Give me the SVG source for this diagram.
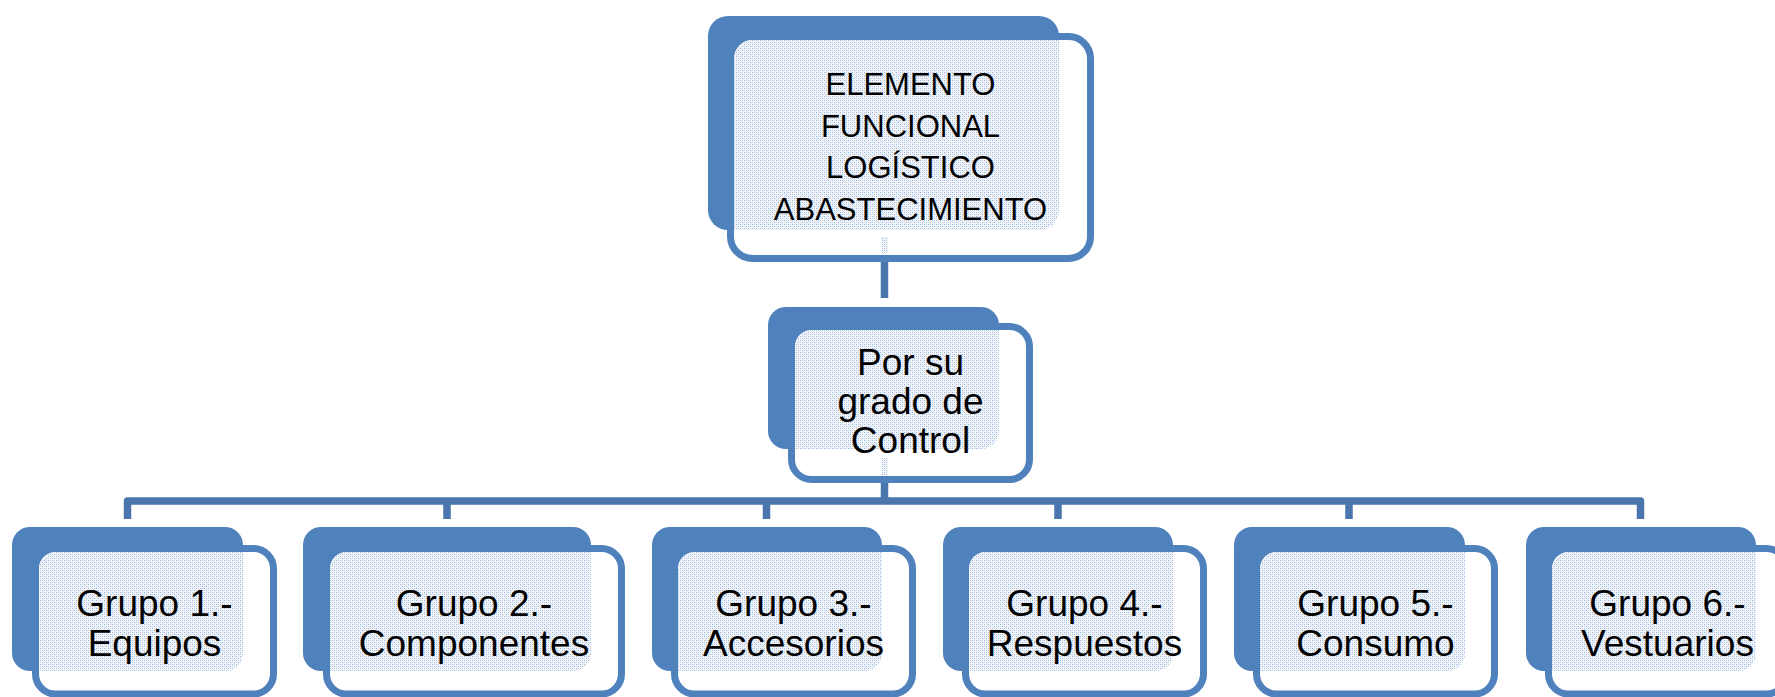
<svg xmlns="http://www.w3.org/2000/svg" width="1775" height="697" viewBox="0 0 1775 697">
<style>
.back{fill:#4f81bd}
.front{fill:#ffffff;stroke:#4f81bd;stroke-width:7}
.dots{fill:url(#dots)}
.conn{fill:none;stroke:#4a76ad;stroke-width:7.5;stroke-linejoin:round}
.t1{font-family:"Liberation Sans",Arial,sans-serif;font-size:31px;fill:#000;text-anchor:middle}
.t2{font-family:"Liberation Sans",Arial,sans-serif;font-size:37px;fill:#000;text-anchor:middle}
</style>
<defs>
<pattern id="dots" width="4" height="4" patternUnits="userSpaceOnUse">
<rect width="4" height="4" fill="#f1f5fa"/>
<rect x="0" y="0" width="1" height="1" fill="#9db5da"/>
<rect x="2" y="2" width="1" height="1" fill="#9db5da"/>
<rect x="2" y="0" width="1" height="1" fill="#cad8ed"/>
<rect x="0" y="2" width="1" height="1" fill="#cad8ed"/>
</pattern>
<clipPath id="c0"><rect x="734" y="40" width="353" height="215" rx="19"/></clipPath>
<clipPath id="c1"><rect x="795" y="330" width="231" height="146" rx="18"/></clipPath>
<clipPath id="g1"><rect x="39" y="552" width="231" height="139" rx="18"/></clipPath>
<clipPath id="g2"><rect x="330" y="552" width="288" height="139" rx="18"/></clipPath>
<clipPath id="g3"><rect x="678" y="552" width="231" height="139" rx="18"/></clipPath>
<clipPath id="g4"><rect x="969" y="552" width="231" height="139" rx="18"/></clipPath>
<clipPath id="g5"><rect x="1260" y="552" width="231" height="139" rx="18"/></clipPath>
<clipPath id="g6"><rect x="1552" y="552" width="231" height="139" rx="18"/></clipPath>
</defs>

<g id="connectors">
<path class="conn" d="M884.5 258 V298"/>
<path class="conn" d="M884.5 480 V501"/>
<path class="conn" d="M127.5 519 V501 H1640.5 V519"/>
<path class="conn" d="M447 501 V519 M766.5 501 V519 M1058 501 V519 M1349 501 V519"/>
</g>

<g id="n0">
<rect class="back" x="708" y="16" width="351" height="214" rx="20"/>
<rect class="front" x="730.5" y="36.5" width="360" height="222" rx="22"/>
<rect class="dots" clip-path="url(#c0)" x="708" y="16" width="351" height="214" rx="20"/>
<rect class="dots" x="881" y="237" width="7" height="17"/>
<text class="t1" x="910.5" y="95">ELEMENTO</text>
<text class="t1" x="910.5" y="137">FUNCIONAL</text>
<text class="t1" x="910.5" y="178">LOGÍSTICO</text>
<text class="t1" x="910.5" y="220">ABASTECIMIENTO</text>
</g>

<g id="n1">
<rect class="back" x="768" y="307" width="231" height="142" rx="18"/>
<rect class="front" x="791.5" y="326.5" width="238" height="153" rx="20"/>
<rect class="dots" clip-path="url(#c1)" x="768" y="307" width="231" height="142" rx="18"/>
<rect class="dots" x="881" y="458" width="7" height="17"/>
<text class="t2" x="910.5" y="375">Por su</text>
<text class="t2" x="910.5" y="414">grado de</text>
<text class="t2" x="910.5" y="453">Control</text>
</g>

<g id="g1n">
<rect class="back" x="12" y="527" width="231" height="144" rx="18"/>
<rect class="front" x="35.5" y="548.5" width="238" height="145.5" rx="20"/>
<rect class="dots" clip-path="url(#g1)" x="12" y="527" width="231" height="144" rx="18"/>
<text class="t2" x="154.5" y="616">Grupo 1.-</text>
<text class="t2" x="154.5" y="656">Equipos</text>
</g>

<g id="g2n">
<rect class="back" x="303" y="527" width="288" height="144" rx="18"/>
<rect class="front" x="326.5" y="548.5" width="295" height="145.5" rx="20"/>
<rect class="dots" clip-path="url(#g2)" x="303" y="527" width="288" height="144" rx="18"/>
<text class="t2" x="474" y="616">Grupo 2.-</text>
<text class="t2" x="474" y="656">Componentes</text>
</g>

<g id="g3n">
<rect class="back" x="652" y="527" width="230" height="144" rx="18"/>
<rect class="front" x="674.5" y="548.5" width="238" height="145.5" rx="20"/>
<rect class="dots" clip-path="url(#g3)" x="652" y="527" width="230" height="144" rx="18"/>
<text class="t2" x="793.5" y="616">Grupo 3.-</text>
<text class="t2" x="793.5" y="656">Accesorios</text>
</g>

<g id="g4n">
<rect class="back" x="943" y="527" width="230" height="144" rx="18"/>
<rect class="front" x="965.5" y="548.5" width="238" height="145.5" rx="20"/>
<rect class="dots" clip-path="url(#g4)" x="943" y="527" width="230" height="144" rx="18"/>
<text class="t2" x="1084.5" y="616">Grupo 4.-</text>
<text class="t2" x="1084.5" y="656">Respuestos</text>
</g>

<g id="g5n">
<rect class="back" x="1234" y="527" width="231" height="144" rx="18"/>
<rect class="front" x="1256.5" y="548.5" width="238" height="145.5" rx="20"/>
<rect class="dots" clip-path="url(#g5)" x="1234" y="527" width="231" height="144" rx="18"/>
<text class="t2" x="1375.5" y="616">Grupo 5.-</text>
<text class="t2" x="1375.5" y="656">Consumo</text>
</g>

<g id="g6n">
<rect class="back" x="1526" y="527" width="230" height="144" rx="18"/>
<rect class="front" x="1548.5" y="548.5" width="238" height="145.5" rx="20"/>
<rect class="dots" clip-path="url(#g6)" x="1526" y="527" width="230" height="144" rx="18"/>
<text class="t2" x="1667.5" y="616">Grupo 6.-</text>
<text class="t2" x="1667.5" y="656">Vestuarios</text>
</g>
</svg>
